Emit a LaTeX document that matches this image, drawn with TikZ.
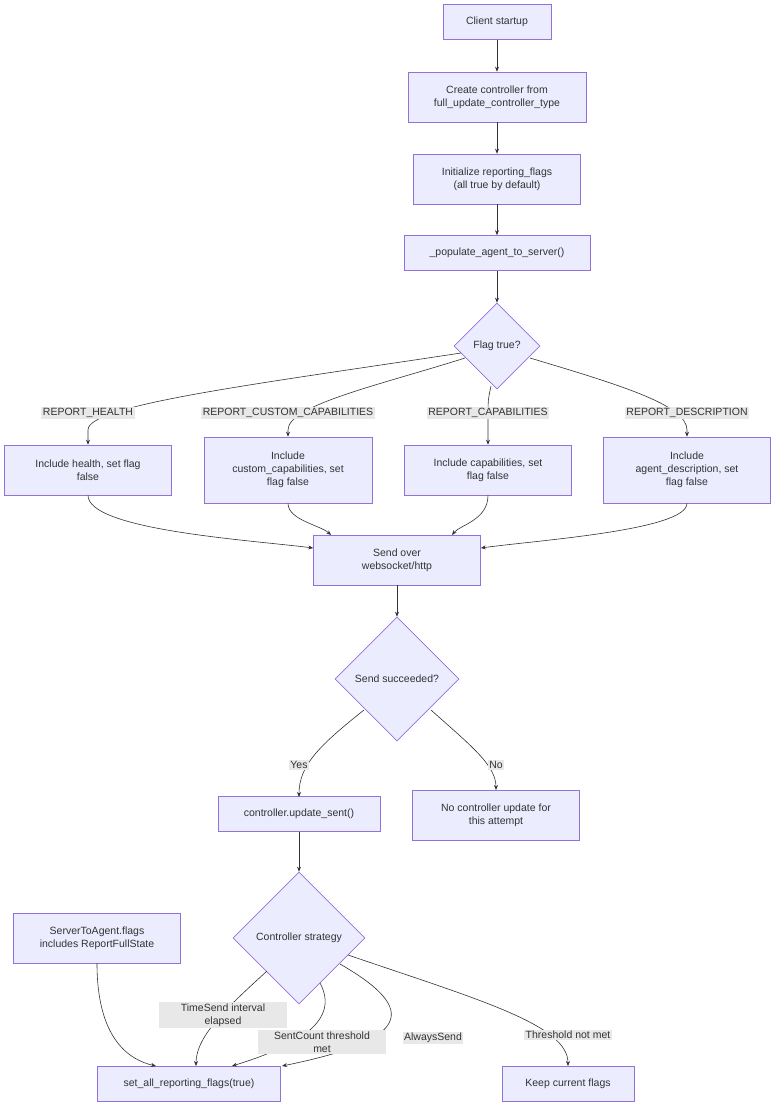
\documentclass[tikz,border=0pt]{standalone}
\usepackage{fontspec}
\setmainfont{Liberation Sans}
\usetikzlibrary{shapes.geometric,arrows.meta}
\definecolor{nfill}{HTML}{ECECFF}
\definecolor{nline}{HTML}{9370DB}
\definecolor{ecol}{HTML}{333333}
\definecolor{lbg}{HTML}{E8E8E8}
\begin{document}
\begin{tikzpicture}[x=1pt,y=-1pt,
  every node/.style={font=\fontsize{10.5}{13}\selectfont,text=ecol},
  box/.style={draw=nline,fill=nfill,line width=0.6pt,align=center,inner sep=0pt},
  dia/.style={draw=nline,fill=nfill,line width=0.6pt,diamond,aspect=1,inner sep=0pt,align=center},
  lab/.style={fill=lbg,inner sep=1.5pt,align=center},
  edge/.style={draw=ecol,line width=0.6pt,-{Stealth[length=5pt,width=4pt]}}]
\useasboundingbox (0,0) rectangle (784,1119);
\node[box,minimum width=108,minimum height=35] (a) at (497,22) {Client startup};
\node[box,minimum width=178,minimum height=50] (b) at (497,97) {Create controller from\\full\_update\_controller\_type};
\node[box,minimum width=167,minimum height=50] (c) at (497,179) {Initialize reporting\_flags\\(all true by default)};
\node[box,minimum width=186,minimum height=35] (d) at (497,253) {\_populate\_agent\_to\_server()};
\node[dia,minimum width=86,minimum height=86] (f) at (497,346) {Flag true?};
\node[box,minimum width=167,minimum height=50] (h) at (88,470) {Include health, set flag\\false};
\node[box,minimum width=168,minimum height=66] (cc) at (288,470) {Include\\custom\_capabilities, set\\flag false};
\node[box,minimum width=167,minimum height=50] (ca) at (488,470) {Include capabilities, set\\flag false};
\node[box,minimum width=167,minimum height=66] (de) at (687,470) {Include\\agent\_description, set\\flag false};
\node[box,minimum width=167,minimum height=50] (s) at (397,560) {Send over\\websocket/http};
\node[dia,minimum width=124,minimum height=124] (ss) at (397,679) {Send succeeded?};
\node[box,minimum width=162,minimum height=35] (u) at (299,814) {controller.update\_sent()};
\node[box,minimum width=167,minimum height=50] (n) at (496,815) {No controller update for\\this attempt};
\node[dia,minimum width=132,minimum height=132] (cs) at (299,938) {Controller strategy};
\node[box,minimum width=167,minimum height=50] (st) at (97,938) {ServerToAgent.flags\\includes ReportFullState};
\node[box,minimum width=183,minimum height=35] (sa) at (189,1084) {set\_all\_reporting\_flags(true)};
\node[box,minimum width=132,minimum height=35] (k) at (568,1084) {Keep current flags};

\draw[edge] (a) -- (b);
\draw[edge] (b) -- (c);
\draw[edge] (c) -- (d);
\draw[edge] (d) -- (f);
% flag branches
\draw[edge] (461,353) .. controls (250,385) and (88,405) .. (88,430) -- (h.north);
\draw[edge] (465,358) .. controls (380,385) and (288,405) .. (288,430) -- (cc.north);
\draw[edge] (491,386) .. controls (488,400) .. (488,420) -- (ca.north);
\draw[edge] (530,358) .. controls (620,385) and (687,405) .. (687,430) -- (de.north);
\node[lab] (l1) at (88,413) {REPORT\_HEALTH};
\node[lab] (l2) at (288,413) {REPORT\_CUSTOM\_CAPABILITIES};
\node[lab] (l3) at (488,413) {REPORT\_CAPABILITIES};
\node[lab] (l4) at (687,413) {REPORT\_DESCRIPTION};
% to send
\draw[edge] (h.south) .. controls (88,530) and (250,540) .. (s.west|-0,548);
\draw[edge] (cc.south) .. controls (288,520) and (320,525) .. (331,535);
\draw[edge] (ca.south) .. controls (488,520) and (460,525) .. (452,535);
\draw[edge] (de.south) .. controls (687,530) and (540,540) .. (s.east|-0,548);
\draw[edge] (s) -- (ss);
% yes/no
\draw[edge] (364,710) .. controls (320,745) and (299,765) .. (299,797);
\draw[edge] (431,710) .. controls (470,745) and (496,765) .. (496,790);
\node[lab] (ly) at (299,765) {Yes};
\node[lab] (ln) at (496,765) {No};
\draw[edge] (u) -- (cs);
% strategy
\draw[edge] (st.south) .. controls (97,1040) and (130,1060) .. (156,1066);
\draw[edge] (267,971) .. controls (230,1005) and (196,1035) .. (196,1066);
\draw[edge] (320,983) .. controls (340,1020) and (300,1045) .. (232,1066);
\draw[edge] (340,964) .. controls (420,1010) and (410,1040) .. (282,1066);
\draw[edge] (348,955) .. controls (480,1000) and (568,1025) .. (568,1066);
\node[lab,minimum width=128] (t1) at (223,1015) {TimeSend interval\\elapsed};
\node[lab,minimum width=128] (t2) at (322,1042) {SentCount threshold\\met};
\node[lab] (t3) at (433,1038) {AlwaysSend};
\node[lab] (t4) at (568,1035) {Threshold not met};
\end{tikzpicture}
\end{document}
